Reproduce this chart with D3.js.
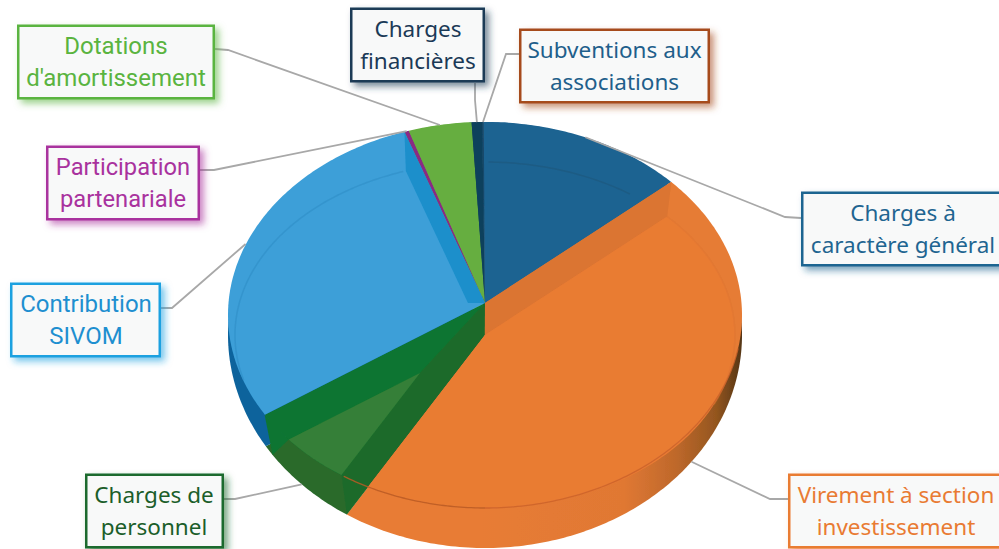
<!DOCTYPE html>
<html><head><meta charset="utf-8">
<script src="https://cdn.jsdelivr.net/npm/d3@7/dist/d3.min.js"></script>
<style>html,body{margin:0;padding:0;background:#fff;overflow:hidden}svg{display:block}</style>
</head><body><svg id="c" width="999" height="549"></svg>
<script>
// ---- data (shares of the budget, %) ----
const categories = ["Charges à caractère général","Virement à section investissement","Charges de personnel","Contribution SIVOM","Participation partenariale","Dotations d'amortissement","Charges financières","Subventions aux associations"];
const values = [13.7,44.7,7.2,29.1,0.3,4.2,0.7,0.1];
const labelLines = [["Charges à","caractère général"],["Virement à section","investissement"],["Charges de","personnel"],["Contribution","SIVOM"],["Participation","partenariale"],["Dotations","d'amortissement"],["Charges","financières"],["Subventions aux","associations"]];

// ---- styles and layout ----
const faceColors = ["#1F6391","#E97B33","#0E7530","#3C9FD8","#8A2A84","#66AE3F","#0E3F5C","#14496B"];
const wallColors = ["#1F6391","url(#orangeWall)","#2A6A2C","#0D639C","#8A2A84","#66AE3F","#0E3F5C","#14496B"];
const boxColors  = ["#1F6591","#E97B33","#1B6B2E","#1EA1E0","#A9329E","#5AB440","#1B3A57","#A64B1F"];
const textColors = ["#1F6591","#E97B33","#1B5E2A","#1E8FD0","#A9329E","#5AB440","#1B3A57","#1F5F8B"];
const labelFonts = ["'Noto Sans'","'Noto Sans'","'Noto Sans'","Roboto","Roboto","Roboto","'Noto Sans'","'Noto Sans'"];
const labelSizes = [22.5,22.5,22.5,24,23.7,24,22.5,22.5];
const boxes = [[801,191.5,212,75],[788,473.5,222,75],[85,473.5,139,75],[10,282.5,151,75],[46,145.5,154,75],[17,24.5,198,75],[350,7.5,135,75],[519,28.5,191,75]];
const labelCentres = [903,896,154,86,123,116,418,614.5];
const elbows = [[785,217,801,218],[770,499,788,499],[235,499,224,499],[172,308,161,308],[214,170,200,170],[228,50,215,49],[475,100,475,83],[506,54,519,54]];

const F = {cx:485,cy:315,rx:257,ry:193}, O = {cx:485,cy:335,rx:257,ry:213}, I = {cx:485,cy:335,rx:250,ry:173};
const apex = [485,303], hub = [485,335];
// perspective disc -> screen: apex is the disc centre, F its outline
const persp = (()=>{ const A=apex[1], t=F.cy-F.ry, b=F.cy+F.ry, cc=(2*A-t-b)/(t-b); return {c:cc,a:t*(1+cc)-A}; })();
function P(t){ const u=Math.sin(t), v=Math.cos(t), w=1+persp.c*v; return [F.cx+F.rx*u/w, (persp.a*v+apex[1])/w]; }
function dir(t){ const p=P(t), dx=p[0]-apex[0], dy=p[1]-apex[1], n=Math.hypot(dx,dy); return [dx/n,dy/n]; }
function hit(C,d,E){
  const ox=(C[0]-E.cx)/E.rx, oy=(C[1]-E.cy)/E.ry, dx=d[0]/E.rx, dy=d[1]/E.ry;
  const A=dx*dx+dy*dy, B=2*(ox*dx+oy*dy), D=ox*ox+oy*oy-1;
  const t=(-B+Math.sqrt(B*B-4*A*D))/(2*A);
  return [C[0]+t*d[0], C[1]+t*d[1]];
}
function arcPts(C,t0,t1,E){ const n=Math.max(2,Math.ceil(Math.abs(t1-t0)/0.015)); return d3.range(n+1).map(i=>hit(C,dir(t0+(t1-t0)*i/n),E)); }
const closed = d3.line().curve(d3.curveLinearClosed), open = d3.line();
function wedge(C,t0,t1,E){ return closed([C].concat(arcPts(C,t0,t1,E))); }
function onO(x){ const dx=(x-O.cx)/O.rx; return [x, O.cy+O.ry*Math.sqrt(1-dx*dx)]; }

const deg = Math.PI/180;
const pie = d3.pie().sort(null).startAngle(-0.3*deg).endAngle(-0.3*deg+2*Math.PI);
const arcs = pie(values);

const svg = d3.select("#c");
const defs = svg.append("defs");
const g = defs.append("linearGradient").attr("id","orangeWall").attr("gradientUnits","userSpaceOnUse").attr("x1",480).attr("x2",742).attr("y1",0).attr("y2",0);
[[0,"#E87C35"],[0.55,"#E07833"],[0.75,"#BE682B"],[0.9,"#94561F"],[1,"#553515"]].forEach(s=>g.append("stop").attr("offset",s[0]).attr("stop-color",s[1]));
boxColors.forEach((col,i)=>{
  const f=defs.append("filter").attr("id","sh"+i).attr("x","-15%").attr("y","-20%").attr("width","130%").attr("height","150%");
  f.append("feDropShadow").attr("dx",4).attr("dy",4).attr("stdDeviation",3.5).attr("flood-color",col).attr("flood-opacity",0.6);
});
defs.append("filter").attr("id","soft").append("feGaussianBlur").attr("stdDeviation",0.5);

const pieG = svg.append("g").attr("filter","url(#soft)");
const path=(d,fill)=>pieG.append("path").attr("d",d).attr("fill",fill);
const stroke=(pts,col,w,op)=>pieG.append("path").attr("d",open(pts)).attr("fill","none").attr("stroke",col).attr("stroke-width",w).attr("stroke-opacity",op);

// side walls: the lower, hub-centred outline
arcs.forEach((a,i)=>path(wedge(hub,a.startAngle,a.endAngle,O),wallColors[i]));

// top faces
[0,2,3,4,5,6,7].forEach(i=>path(wedge(apex,arcs[i].startAngle,arcs[i].endAngle,F),faceColors[i]));

const ORG=1, PER=2, SIV=3;
// personnel: darker band along orange, lighter inset face, corner of the wall
const ps=arcs[PER].startAngle, pe=arcs[PER].endAngle;
const gIn=[apex[0]-65,apex[1]+70], corner=P(pe);
path(closed([corner,onO(corner[0]+8),hit(gIn,dir(pe),F)]),faceColors[PER]);
path(closed([apex,gIn,hit(gIn,dir(ps),F),hit(hub,dir(ps),O),hub]),"#1F6A2A");
path(wedge(gIn,ps,pe,F),"#357F37");

// orange: apex-based right half, hub-based lower left, darker cut wall
path(wedge(apex,arcs[ORG].startAngle,Math.PI+0.005,F),"#E67C35");
path(wedge(hub,Math.PI,arcs[ORG].endAngle,F),"#E97B33");
path(closed([apex,P(arcs[ORG].startAngle),hit(hub,dir(arcs[ORG].startAngle),I),hub]),"#DB7530");
path(wedge(hub,arcs[ORG].startAngle,arcs[ORG].endAngle,I),"#E97B33");

// SIVOM: blue bevel band beside the purple slice
const se=arcs[SIV].endAngle, bIn=[apex[0]-17,apex[1]];
path(closed([apex,P(se),hit(bIn,dir(se),I),bIn]),"#1A8FCB");

// rim lines
stroke(arcPts(hub,arcs[SIV].startAngle+0.35,se-0.02,I),"#2E8DC6",1.5,0.6);
stroke(arcPts(hub,arcs[0].startAngle+0.02,arcs[0].endAngle-0.2,I),"#185478",1.5,0.5);
stroke(arcPts(hub,arcs[ORG].startAngle,arcs[ORG].startAngle+1.1,I),"#DD7530",1.5,0.5);
stroke(arcPts(apex,arcs[ORG].startAngle+0.95,Math.PI,F),"#C9622B",1.3,0.8);
stroke(arcPts(hub,Math.PI,arcs[ORG].endAngle+0.12,F),"#B85A24",1.3,0.85);

// leader lines, anchored on each slice's mid-angle
function anchor(i){
  const a=arcs[i], p=P((a.startAngle+a.endAngle)/2);
  return (i===ORG||i===PER) ? onO(p[0]) : p;
}
const lineG=svg.append("g");
elbows.forEach((e,i)=>{
  lineG.append("path").attr("d",open([anchor(i),[e[0],e[1]],[e[2],e[3]]])).attr("fill","none").attr("stroke","#A8A8A8").attr("stroke-width",1.8);
});

// label boxes
categories.forEach((name,i)=>{
  const b=boxes[i], lg=svg.append("g").attr("class","label");
  lg.append("rect").attr("x",b[0]+1.25).attr("y",b[1]+1.25).attr("width",b[2]-2.5).attr("height",b[3]-2.5)
    .attr("fill","#F8F9F9").attr("stroke",boxColors[i]).attr("stroke-width",2.5).attr("filter",`url(#sh${i})`);
  labelLines[i].forEach((ln,j)=>{
    lg.append("text").attr("x",labelCentres[i]).attr("y",b[1]+29.5+j*32).attr("text-anchor","middle")
      .attr("font-family",labelFonts[i]).attr("font-size",labelSizes[i]).attr("fill",textColors[i]).text(ln);
  });
});
</script></body></html>
